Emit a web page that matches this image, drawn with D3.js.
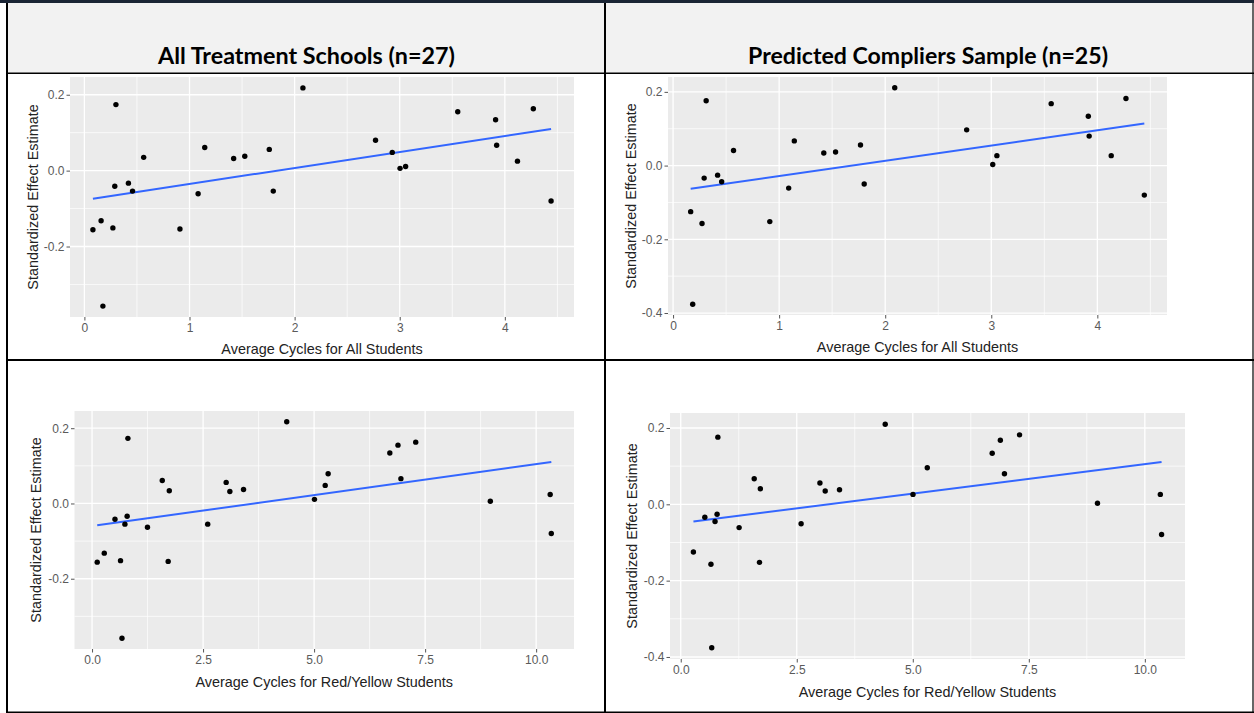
<!DOCTYPE html>
<html>
<head>
<meta charset="utf-8">
<script src="https://cdn.jsdelivr.net/npm/d3@7"></script>
<style>
  body{margin:0;background:#fff;}
  svg{display:block;}
</style>
</head>
<body>
<svg id="chart" width="1254" height="713"></svg>
<script>
// column / axis texts
const colTitles = ["All Treatment Schools (n=27)", "Predicted Compliers Sample (n=25)"];
const xTitles = ["Average Cycles for All Students", "Average Cycles for Red/Yellow Students"];
const yTitle = "Standardized Effect Estimate";

// top left: all schools vs avg cycles (all students)
const allX1 = [0.081,0.159,0.176,0.271,0.289,0.300,0.419,0.458,0.564,0.909,1.082,1.145,1.420,1.526,1.759,1.797,2.079,2.770,2.929,3.003,3.056,3.552,3.912,3.922,4.120,4.271,4.440];
const allY1 = [-0.156,-0.132,-0.357,-0.151,-0.041,0.174,-0.033,-0.054,0.035,-0.154,-0.061,0.061,0.032,0.038,0.056,-0.054,0.218,0.080,0.048,0.006,0.011,0.155,0.134,0.067,0.025,0.163,-0.080];
const fitAll1 = [[0.081,-0.074],[4.440,0.110]];

// top right: compliers vs avg cycles (all students)
const compX1 = [0.166,0.185,0.273,0.293,0.312,0.420,0.458,0.570,0.912,1.090,1.143,1.421,1.532,1.767,1.802,2.090,2.768,3.014,3.053,3.565,3.915,3.923,4.131,4.270,4.443];
const compY1 = [-0.125,-0.376,-0.157,-0.034,0.176,-0.026,-0.044,0.041,-0.152,-0.061,0.067,0.034,0.037,0.056,-0.050,0.211,0.097,0.003,0.027,0.168,0.134,0.080,0.027,0.182,-0.080];
const fitComp1 = [[0.166,-0.063],[4.443,0.114]];

// bottom left: all schools vs avg cycles (red/yellow)
const allX2 = [0.116,0.275,0.516,0.641,0.674,0.740,0.790,0.807,1.248,1.581,1.714,1.739,2.604,3.020,3.103,3.411,4.384,5.008,5.250,5.316,6.705,6.889,6.955,7.288,8.968,10.316,10.341];
const allY2 = [-0.156,-0.132,-0.042,-0.152,-0.358,-0.055,-0.034,0.173,-0.063,0.061,-0.154,0.034,-0.055,0.056,0.032,0.037,0.217,0.011,0.048,0.079,0.134,0.155,0.066,0.163,0.006,0.024,-0.080];
const fitAll2 = [[0.116,-0.058],[10.341,0.110]];

// bottom right: compliers vs avg cycles (red/yellow)
const compX2 = [0.273,0.519,0.651,0.668,0.739,0.783,0.800,1.258,1.583,1.697,1.715,2.594,2.999,3.113,3.421,4.406,5.004,5.312,6.711,6.887,6.975,7.300,8.980,10.334,10.361];
const compY2 = [-0.125,-0.034,-0.157,-0.376,-0.045,-0.026,0.176,-0.061,0.067,-0.152,0.041,-0.051,0.056,0.035,0.038,0.210,0.026,0.096,0.134,0.168,0.080,0.182,0.003,0.026,-0.079];
const fitComp2 = [[0.273,-0.045],[10.361,0.111]];

// ticks
const xTicksAll = [0,1,2,3,4];
const xLabelsAll = ["0","1","2","3","4"];
const xTicksRY = [0,2.5,5,7.5,10];
const xLabelsRY = ["0.0","2.5","5.0","7.5","10.0"];
const yTicksA = [-0.2,0,0.2];
const yLabelsA = ["-0.2","0.0","0.2"];
const yTicksB = [-0.4,-0.2,0,0.2];
const yLabelsB = ["-0.4","-0.2","0.0","0.2"];

const svg = d3.select("#chart");

// ---- table frame ----
svg.append("rect").attr("x",0).attr("y",0).attr("width",1254).attr("height",713).attr("fill","#fff");
svg.append("rect").attr("x",8).attr("y",3).attr("width",596).attr("height",70).attr("fill","#f2f2f2");
svg.append("rect").attr("x",606).attr("y",3).attr("width",646).attr("height",70).attr("fill","#f2f2f2");
svg.append("rect").attr("x",0).attr("y",0).attr("width",1254).attr("height",3).attr("fill","#1b2535");

const frame = [
  {x1:7,y1:3,x2:7,y2:713,w:2},
  {x1:605,y1:3,x2:605,y2:713,w:2},
  {x1:1253,y1:3,x2:1253,y2:713,w:1.2},
  {x1:6,y1:73.2,x2:1254,y2:73.2,w:1.4},
  {x1:6,y1:360,x2:1254,y2:360,w:2},
  {x1:6,y1:712.2,x2:1254,y2:712.2,w:1.6}
];
svg.selectAll(".frame").data(frame).join("line").classed("frame",true)
  .attr("x1",d=>d.x1).attr("y1",d=>d.y1).attr("x2",d=>d.x2).attr("y2",d=>d.y2)
  .attr("stroke","#000").attr("stroke-width",d=>d.w);

const titlePos = [{cx:306.5,w:297},{cx:928,w:360}];
svg.selectAll(".col-title").data(colTitles).join("text").classed("col-title",true)
  .attr("x",(d,i)=>titlePos[i].cx).attr("y",64)
  .attr("text-anchor","middle")
  .attr("textLength",(d,i)=>titlePos[i].w).attr("lengthAdjust","spacingAndGlyphs")
  .style("font-family","Lato, 'Open Sans', sans-serif").style("font-weight","bold")
  .style("font-size","23px").attr("fill","#000")
  .text(d=>d);

// ---- panels ----
function padDomain(vals){
  const ext = d3.extent(vals);
  const pad = (ext[1]-ext[0])*0.05;
  return [ext[0]-pad, ext[1]+pad];
}
function minorOf(ticks, dom){
  const step = ticks[1]-ticks[0];
  const out = [];
  for(let i=-1;i<ticks.length;i++){
    const m = ticks[0] + step*i + step/2;
    if(m>dom[0] && m<dom[1]) out.push(m);
  }
  return out;
}

function drawPanel(cfg){
  const xs = d3.scaleLinear().domain(padDomain(cfg.xv)).range([cfg.left,cfg.right]);
  const ys = d3.scaleLinear().domain(padDomain(cfg.yv)).range([cfg.bottom,cfg.top]);
  const g = svg.append("g").classed("panel",true);

  g.append("rect").attr("x",cfg.left).attr("y",cfg.top)
    .attr("width",cfg.right-cfg.left).attr("height",cfg.bottom-cfg.top).attr("fill","#ebebeb");

  // grid
  g.selectAll(".gx-minor").data(minorOf(cfg.xt, xs.domain())).join("line").classed("gx-minor",true)
    .attr("x1",d=>xs(d)).attr("x2",d=>xs(d)).attr("y1",cfg.top).attr("y2",cfg.bottom)
    .attr("stroke","#fff").attr("stroke-width",0.7);
  g.selectAll(".gy-minor").data(minorOf(cfg.yt, ys.domain())).join("line").classed("gy-minor",true)
    .attr("y1",d=>ys(d)).attr("y2",d=>ys(d)).attr("x1",cfg.left).attr("x2",cfg.right)
    .attr("stroke","#fff").attr("stroke-width",0.7);
  g.selectAll(".gx").data(cfg.xt).join("line").classed("gx",true)
    .attr("x1",d=>xs(d)).attr("x2",d=>xs(d)).attr("y1",cfg.top).attr("y2",cfg.bottom)
    .attr("stroke","#fff").attr("stroke-width",1.3);
  g.selectAll(".gy").data(cfg.yt).join("line").classed("gy",true)
    .attr("y1",d=>ys(d)).attr("y2",d=>ys(d)).attr("x1",cfg.left).attr("x2",cfg.right)
    .attr("stroke","#fff").attr("stroke-width",1.3);

  // axes
  const xAxis = d3.axisBottom(xs).tickValues(cfg.xt).tickFormat((d,i)=>cfg.xl[i]).tickSize(3.5).tickPadding(3);
  const yAxis = d3.axisLeft(ys).tickValues(cfg.yt).tickFormat((d,i)=>cfg.yl[i]).tickSize(3.5).tickPadding(2);
  const ax = g.append("g").attr("transform",`translate(0,${cfg.bottom})`).call(xAxis);
  const ay = g.append("g").attr("transform",`translate(${cfg.left},0)`).call(yAxis);
  [ax,ay].forEach(a=>{
    a.select(".domain").remove();
    a.selectAll(".tick line").attr("stroke","#555").attr("stroke-width",1);
    a.selectAll(".tick text").attr("fill","#5a5a5a")
      .style("font-family","'Liberation Sans', Arial, sans-serif").style("font-size","12px");
  });

  // fit line
  g.append("path").datum(cfg.fit)
    .attr("d",d3.line().x(d=>xs(d[0])).y(d=>ys(d[1])))
    .attr("fill","none").attr("stroke","#3366ff").attr("stroke-width",2);

  // points
  g.selectAll(".pt").data(d3.range(cfg.xv.length)).join("circle").classed("pt",true)
    .attr("cx",i=>xs(cfg.xv[i])).attr("cy",i=>ys(cfg.yv[i])).attr("r",2.7).attr("fill","#000");

  // titles
  g.append("text").attr("x",(cfg.left+cfg.right)/2).attr("y",cfg.xTitleY)
    .attr("text-anchor","middle").attr("fill","#222")
    .style("font-family","'Liberation Sans', Arial, sans-serif").style("font-size","14.4px")
    .text(cfg.xTitle);
  g.append("text")
    .attr("transform",`translate(${cfg.yTitleX},${(cfg.top+cfg.bottom)/2}) rotate(-90)`)
    .attr("text-anchor","middle").attr("fill","#222")
    .style("font-family","'Liberation Sans', Arial, sans-serif").style("font-size","14.4px")
    .text(yTitle);
}

drawPanel({xv:allX1, yv:allY1, fit:fitAll1, xt:xTicksAll, xl:xLabelsAll, yt:yTicksA, yl:yLabelsA,
  left:70, right:574, top:77, bottom:317, xTitle:xTitles[0], xTitleY:354, yTitleX:38});
drawPanel({xv:compX1, yv:compY1, fit:fitComp1, xt:xTicksAll, xl:xLabelsAll, yt:yTicksB, yl:yLabelsB,
  left:668, right:1167, top:77, bottom:315, xTitle:xTitles[0], xTitleY:352, yTitleX:635.5});
drawPanel({xv:allX2, yv:allY2, fit:fitAll2, xt:xTicksRY, xl:xLabelsRY, yt:yTicksA, yl:yLabelsA,
  left:74.5, right:574, top:411, bottom:649, xTitle:xTitles[1], xTitleY:687, yTitleX:40.5});
drawPanel({xv:compX2, yv:compY2, fit:fitComp2, xt:xTicksRY, xl:xLabelsRY, yt:yTicksB, yl:yLabelsB,
  left:670, right:1185, top:413, bottom:659, xTitle:xTitles[1], xTitleY:697, yTitleX:636.5});
</script>
</body>
</html>
